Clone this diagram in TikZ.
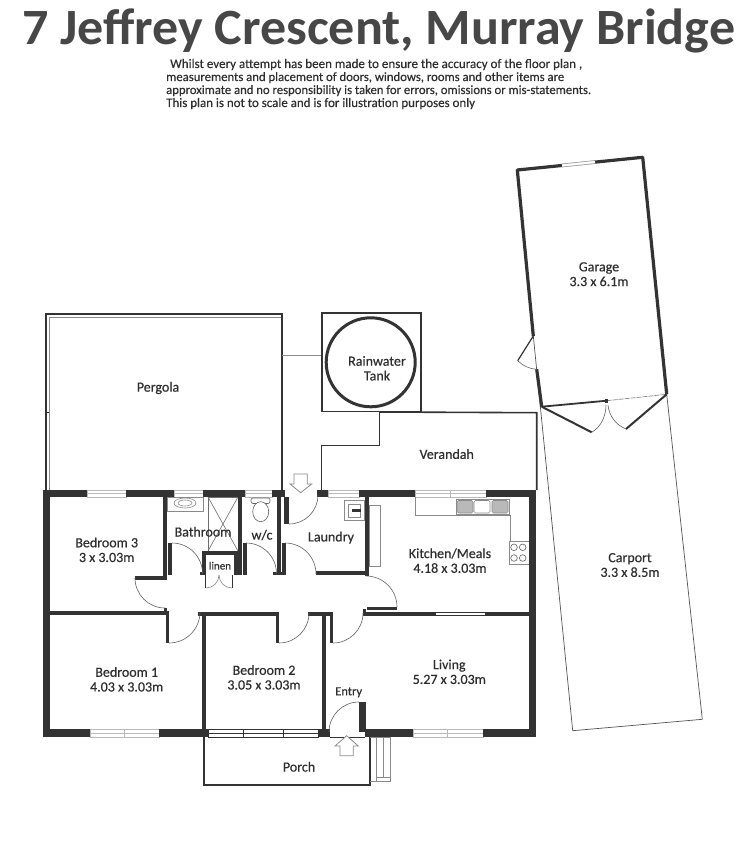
\documentclass[tikz,border=0pt]{standalone}
\usepackage{fontspec}
\usepackage{graphicx}
\setmainfont{Carlito}
\newfontfamily\lblfont[FakeBold=0.35]{Carlito}
\definecolor{wallc}{HTML}{333333}
\definecolor{thinc}{HTML}{8A8A8A}
\definecolor{inkc}{HTML}{2E2E2E}
\tikzset{
  wall/.style={fill=wallc,draw=none},
  swing/.style={draw=thinc!70!black,line width=0.6pt},
  fixture/.style={draw=thinc,line width=0.7pt,fill=white},
  win/.style={draw=thinc!60,line width=0.6pt,fill=white},
  winblack/.style={draw=wallc,line width=0.6pt,fill=white},
  hard/.style={draw=wallc,line width=1.6pt,line join=miter},
  lbl/.style={font=\lblfont\fontsize{14}{14.7}\selectfont,text=inkc,align=center,inner sep=0pt},
  arrowshape/.style={draw=thinc,line width=0.8pt,fill=white,line join=miter},
}
\newcommand{\wl}[4]{\fill[wall] (#1,#2) rectangle (#3,#4);}
\newcommand{\hwin}[5][win]{\draw[#1] (#2,#4) rectangle (#3,#5);\draw[#1] (#2,{(#4+#5)/2}) -- (#3,{(#4+#5)/2});}
\begin{document}
\begin{tikzpicture}[x=1pt,y=-1pt]
\useasboundingbox (0,0) rectangle (750,864);
\fill[white] (0,0) rectangle (750,864);
% title
\node[anchor=base west,inner sep=0pt,text=wallc!90!white] (title) at (22,45) {\resizebox{713pt}{35.7pt}{\bfseries 7 Jeffrey Crescent, Murray Bridge}};
\node[anchor=base west,inner sep=0pt,text=inkc] (d1) at (170,68) {\resizebox{412pt}{!}{\lblfont Whilst every attempt has been made to ensure the accuracy of the floor plan ,}};
\node[anchor=base west,inner sep=0pt,text=inkc] (d2) at (166,81) {\resizebox{398pt}{!}{\lblfont measurements and placement of doors, windows, rooms and other items are}};
\node[anchor=base west,inner sep=0pt,text=inkc] (d3) at (166,94) {\resizebox{425pt}{!}{\lblfont approximate and no responsibility is taken for errors, omissions or mis-statements.}};
\node[anchor=base west,inner sep=0pt,text=inkc] (d4) at (166,107) {\resizebox{309pt}{!}{\lblfont This plan is not to scale and is for illustration purposes only}};
% pergola
\draw[thinc,line width=0.8pt] (49.3,490) -- (49.3,317.3) -- (281,317.3);
\draw[wallc,line width=1.8pt] (45.7,490) -- (45.7,314) -- (281.7,314) -- (281.7,490);
\draw[wallc,line width=0.7pt] (45.7,412.7) -- (49.3,412.7);
\draw[thinc,line width=0.8pt] (282,355) -- (321.7,355);
% tank
\draw[hard] (321.7,312.7) rectangle (420.7,411.5);
\draw[wallc,line width=3pt] (370.7,362.3) circle[radius=44.5pt];
% verandah
\draw[hard] (379.3,412) -- (536.7,412.7) -- (536.7,490);
\draw[hard] (379.3,412) -- (379.3,445.3) -- (321.3,445.3) -- (321.3,490);
% carport
\draw[thinc!60!black,line width=0.7pt] (533.3,336) -- (572.7,730.7) -- (702.3,719.3) -- (666.7,394.3);
% garage
\draw[wallc,line width=3.2pt,line join=round] (533.3,336) -- (517.3,170) -- (642.7,157.3) -- (666.7,394.3);
\draw[wallc,line width=3.2pt] (536.7,369.3) -- (541.7,406.7);
\draw[wallc,line width=1.8pt] (541.7,406.7) -- (606.7,400.7);
\draw[thinc,line width=0.7pt,dash pattern=on 5pt off 1pt] (606.7,400.7) -- (666.7,394.3);
\fill[wall] (605.2,399.2) rectangle (608.2,402.7);
\draw[white,line width=3.6pt] (562,165.5) -- (595,162);
\draw[thinc!80,line width=0.7pt] (562,164) -- (595,160.5) (562,167) -- (595,163.5);
\draw[wallc,line width=1.2pt] (533.3,336) -- (517.7,360.7);
\draw[swing] (517.7,360.7) .. controls (523,366) and (530,369) .. (536.7,369.3);
\draw[wallc,line width=2pt] (541.7,406.7) -- (591.7,432.3);
\draw[wallc,line width=2pt] (666.7,394.3) -- (626,429);
\draw[swing] (591.7,432.3) .. controls (601,427) and (606,416) .. (606,405);
\draw[swing] (626,429) .. controls (616,425) and (609,416) .. (608,405);
% porch and steps
\draw[wallc,line width=1.3pt] (204,737) -- (204,785) -- (370,785) -- (370,737);
\draw[thinc,line width=0.8pt] (370,737) -- (390.7,737) -- (390.7,781) -- (370,781);
\draw[thinc,line width=0.8pt] (376.7,737) -- (376.7,777.7) -- (390.7,777.7) (383,737) -- (383,777.7) (376.7,777.7) -- (376.7,781);
% windows and openings in outer walls
\hwin{87}{126}{490}{497}
\hwin{174}{203}{490}{497}
\hwin{245}{272}{490}{497}
\hwin{328}{359}{490}{497}
\hwin{415}{486}{490}{497}
\draw[win] (450.7,490) -- (450.7,497);
\hwin{90}{159}{729}{737}
\draw[win] (124.5,729) -- (124.5,737);
\hwin[winblack]{208}{318}{729}{737}
\draw[winblack] (243,729) -- (243,737) (283,729) -- (283,737);
\hwin{413}{483}{729}{737}
\draw[win] (447.7,729) -- (447.7,737);
\draw[winblack] (435,612.5) rectangle (485.7,615);
% fixtures
\draw[fixture] (167,497) rectangle (203,511);
\draw[thinc,line width=0.6pt] (185,503) ellipse[x radius=11pt,y radius=5pt];
\draw[thinc,line width=0.6pt] (185,503) ellipse[x radius=7pt,y radius=3pt];
\draw[thinc!80!black,line width=0.6pt] (208,497) rectangle (238,551);
\draw[thinc!80!black,line width=0.6pt] (208,497) -- (238,551) (238,497) -- (208,551);
\draw[thinc!70!black,line width=0.6pt,rounded corners=2pt] (251,498) rectangle (270,503.5);
\draw[thinc!70!black,line width=0.6pt,fill=white] (260.7,511.7) ellipse[x radius=8pt,y radius=10pt];
\draw[fixture] (344,500.7) rectangle (364,520.7);
\draw[thinc,line width=0.6pt] (348,504) rectangle (360,517);
\fill[wall] (352,509) rectangle (361,512);
\draw[fixture] (369,505) rectangle (380,566.7);
\draw[thinc,line width=0.8pt] (415,497) -- (415,515) -- (510,515) -- (510,541);
\draw[fixture] (509.3,541) rectangle (529,564.3);
\foreach \cx/\cy in {514/547.3,522.7/547.3,514/558,522.7/558}{\draw[thinc!70!black,line width=0.6pt] (\cx,\cy) circle[radius=3.3pt];}
\draw[fixture] (456,499.3) rectangle (509.3,514.3);
\draw[fill=thinc!60,draw=thinc,line width=0.6pt,rounded corners=1.5pt] (457,500.5) rectangle (473,513);
\draw[fill=white,draw=thinc,line width=0.6pt,rounded corners=1.5pt] (474,500.5) rectangle (490,513);
\draw[fill=thinc!60,draw=thinc,line width=0.6pt,rounded corners=1.5pt] (492,500.5) rectangle (508,513);
% outer walls
\wl{42.7}{489.5}{50}{737}
\wl{42.7}{489.5}{87}{497}
\wl{126}{489.5}{174}{497}
\wl{203}{489.5}{245}{497}
\wl{272}{489.5}{285}{497}
\wl{317}{489.5}{328}{497}
\wl{359}{489.5}{415}{497}
\wl{486}{489.5}{536}{497}
\wl{529}{489.5}{536}{737}
\wl{42.7}{729}{90}{737}
\wl{159}{729}{208}{737}
\wl{318}{729}{329.5}{737}
\wl{365}{729.3}{413}{737}
\wl{483}{729.3}{536}{737}
\draw[wallc,line width=0.7pt] (329.5,737) -- (365,737);
% inner walls
\wl{163}{497}{167.3}{579.5}
\wl{135}{576}{167}{579.5}
\wl{50}{611}{166}{615.3}
\wl{163.5}{608}{166.5}{612}
\wl{166}{611}{169.3}{642.7}
\wl{198}{611.7}{278}{615.7}
\wl{202.3}{612}{206}{737}
\wl{275.7}{612}{279}{643}
\wl{308}{611.7}{329.5}{615.7}
\wl{322.3}{612}{326}{729}
\wl{329.7}{612}{333}{643}
\wl{363}{611.7}{435}{615.7}
\wl{485.7}{611.7}{529}{615.7}
\wl{363}{609}{366}{612}
\wl{367}{606.7}{396.7}{610}
\wl{365}{497}{369}{576}
\wl{316}{571}{369}{575}
\wl{277.3}{497}{280.7}{575}
\wl{282.3}{543.3}{285.7}{575}
\wl{273}{572}{282}{575}
\wl{284}{497}{289}{524}
\wl{238.3}{497}{241.7}{575}
\wl{243.3}{543}{246.7}{575}
\wl{234}{572}{241.7}{575}
\wl{168.3}{543}{172}{575}
\wl{200}{572}{206}{575}
\wl{202.3}{551}{238.3}{555}
\wl{202.3}{551}{206}{575}
\wl{234}{551}{238.3}{575}
\wl{359}{701.7}{365.7}{731.7}
% door swings
\draw[swing] (135,578) arc[start angle=180,end angle=270,radius=30pt];
\draw[swing] (169,643) arc[start angle=270,end angle=360,radius=31pt];
\draw[swing] (279,643) arc[start angle=270,end angle=360,radius=30pt];
\draw[swing] (333,643) arc[start angle=270,end angle=360,radius=30pt];
\draw[swing] (397,607) arc[start angle=0,end angle=90,radius=31pt];
\draw[swing] (285,543) arc[start angle=90,end angle=0,radius=31pt];
\draw[swing] (246,543) arc[start angle=90,end angle=0,radius=30.5pt];
\draw[swing] (172,543) arc[start angle=90,end angle=0,radius=30.5pt];
\draw[swing] (289,524) arc[start angle=270,end angle=360,radius=29pt];
\draw[swing] (359,702) arc[start angle=90,end angle=180,radius=30pt];
% linen doors
\draw[wallc,line width=0.9pt] (205.7,575) -- (205.7,588) (232,575) -- (232,588);
\draw[swing,thinc] (206,588) arc[start angle=270,end angle=360,radius=13pt];
\draw[swing,thinc] (232,588) arc[start angle=270,end angle=180,radius=13pt];
% entry arrows
\draw[arrowshape] (346.7,735.7) -- (358.3,746) -- (353.3,746) -- (353.3,755.7) -- (340,755.7) -- (340,746) -- (335,746) -- cycle;
\draw[arrowshape] (300.7,492.7) -- (311.7,484) -- (307.3,484) -- (307.3,474) -- (294,474) -- (294,484) -- (290,484) -- cycle;
% labels
\node[lbl] (pergola) at (158,388) {Pergola};
\node[lbl] (tank) at (377,368.3) {Rainwater\\Tank};
\node[lbl] (verandah) at (446.7,454) {Verandah};
\node[lbl] (garage) at (599,274.2) {Garage\\3.3 x 6.1m};
\node[lbl] (bed3) at (106.7,549.8) {Bedroom 3\\3 x 3.03m};
\node[lbl] (bath) at (203,531.7) {Bathroom};
\node[lbl] (wc) at (262,535) {w/c};
\node[lbl] (laundry) at (331,537.7) {Laundry};
\node[lbl,font=\lblfont\fontsize{11}{12}\selectfont] (linen) at (220,565.7) {linen};
\node[lbl] (kitchen) at (450,560.6) {Kitchen/Meals\\4.18 x 3.03m};
\node[lbl] (carport) at (630,565) {Carport\\3.3 x 8.5m};
\node[lbl] (bed1) at (126.7,679.3) {Bedroom 1\\4.03 x 3.03m};
\node[lbl] (bed2) at (264,677.3) {Bedroom 2\\3.05 x 3.03m};
\node[lbl] (living) at (449.3,671.8) {Living\\5.27 x 3.03m};
\node[lbl,font=\lblfont\fontsize{12.5}{13}\selectfont] (entry) at (348.7,692.3) {Entry};
\node[lbl] (porch) at (299,766.7) {Porch};
\end{tikzpicture}
\end{document}
